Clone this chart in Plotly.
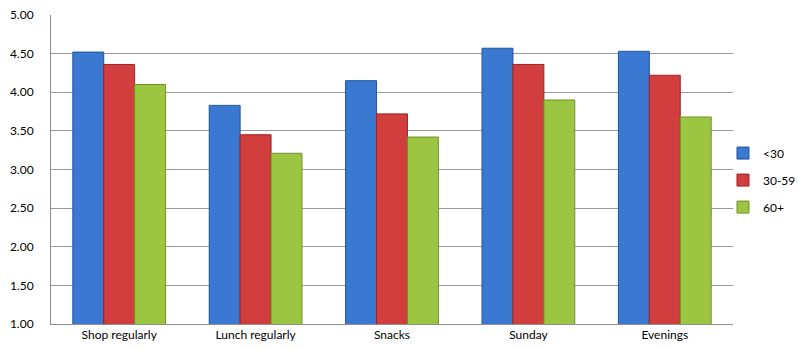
import plotly.graph_objects as go

categories = ["Shop regularly", "Lunch regularly", "Snacks", "Sunday", "Evenings"]
under_30 = [4.52, 3.83, 4.15, 4.57, 4.53]
age_30_59 = [4.36, 3.45, 3.72, 4.36, 4.22]
age_60_plus = [4.10, 3.21, 3.42, 3.90, 3.68]
tick_vals = [1.0, 1.5, 2.0, 2.5, 3.0, 3.5, 4.0, 4.5, 5.0]
tick_text = ["1.00", "1.50", "2.00", "2.50", "3.00", "3.50", "4.00", "4.50", "5.00"]

series = [
    ("<30", under_30, "#3a78d2", "#23559c"),
    ("30-59", age_30_59, "#d23d3d", "#9a2424"),
    ("60+", age_60_plus, "#9cc641", "#6f9227"),
]

fig = go.Figure()
for name, vals, fill, edge in series:
    fig.add_trace(go.Bar(
        x=categories, y=vals, name=name, legendgroup=name,
        marker=dict(color=fill, line=dict(color=edge, width=1)),
    ))

font = dict(family="Lato, Carlito, 'Liberation Sans', sans-serif", size=12, color="#000000")

fig.update_layout(
    width=798, height=349,
    margin=dict(l=51, r=65, t=15, b=25, autoexpand=False),
    paper_bgcolor="white", plot_bgcolor="white",
    barmode="group", bargap=0.32, bargroupgap=0,
    font=font,
    showlegend=True,
    legend=dict(xref="container", yref="container", x=0.906, y=0.484,
                xanchor="left", yanchor="middle", traceorder="grouped",
                font=dict(size=12), tracegroupgap=8, itemwidth=30,
                bgcolor="rgba(0,0,0,0)"),
    xaxis=dict(showline=True, linecolor="#8c8c8c", linewidth=1,
               showgrid=False, ticks="", tickfont=font, fixedrange=True),
    yaxis=dict(range=[1, 5], tickvals=tick_vals, ticktext=tick_text,
               showgrid=True, gridcolor="#9a9a9a", gridwidth=1,
               showline=True, linecolor="#8c8c8c", linewidth=1,
               zeroline=False, ticks="", ticklabelstandoff=14,
               tickfont=font, fixedrange=True),
)

fig.write_html("out.html")
